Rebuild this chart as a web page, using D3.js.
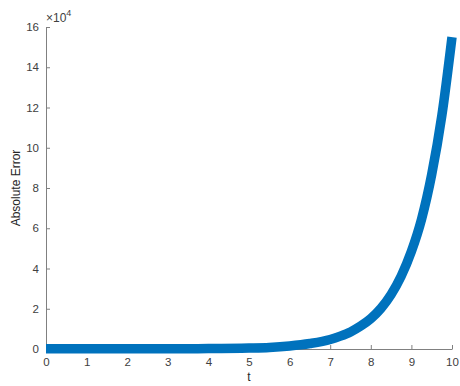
<!DOCTYPE html>
<html>
<head>
<meta charset="utf-8">
<script src="https://cdn.jsdelivr.net/npm/d3@7"></script>
<style>
  body { margin: 0; background: #fff; }
  svg text { font-family: "Liberation Sans", Arial, sans-serif; }
  .axis path, .axis line { stroke: #808080; }
  .axis text { fill: #404040; font-size: 11.5px; }
</style>
</head>
<body>
<div id="chart"></div>
<script>
// t values and absolute error (units of 1e4)
const tValues   = [0, 1, 2, 3, 4, 5, 5.5, 6, 6.5, 7, 7.25, 7.5, 7.75, 8, 8.25, 8.5, 8.75, 9, 9.25, 9.5, 9.75, 10];
const errValues = [0.01, 0.01, 0.01, 0.01, 0.02, 0.05, 0.08, 0.15, 0.27, 0.47, 0.64, 0.85, 1.14, 1.51, 2.02, 2.71, 3.63, 4.85, 6.45, 8.67, 11.6, 15.5];
const xTicks = d3.range(0, 11, 1);
const yTicks = d3.range(0, 17, 2);

const W = 460, H = 386;
const margin = { top: 27, right: 8, bottom: 37, left: 46 };

const svg = d3.select("#chart")
  .append("svg")
  .attr("width", W)
  .attr("height", H);

const x = d3.scaleLinear().domain([0, 10]).range([margin.left, W - margin.right]);
const y = d3.scaleLinear().domain([0, 16]).range([H - margin.bottom, margin.top]);

// AXES
svg.append("g")
  .attr("class", "axis")
  .attr("transform", `translate(0,${H - margin.bottom})`)
  .call(d3.axisBottom(x).tickValues(xTicks).tickSizeInner(-4).tickSizeOuter(0).tickPadding(9));

svg.append("g")
  .attr("class", "axis")
  .attr("transform", `translate(${margin.left},0)`)
  .call(d3.axisLeft(y).tickValues(yTicks).tickSizeInner(-4).tickSizeOuter(0).tickPadding(7));

// exponent label
const expo = svg.append("text")
  .attr("x", margin.left)
  .attr("y", margin.top - 5)
  .attr("font-size", 12)
  .attr("fill", "#404040");
expo.append("tspan").text("×10");
expo.append("tspan").attr("font-size", 9).attr("dy", -6).text("4");

// CURVE
const line = d3.line()
  .x((d, i) => x(tValues[i]))
  .y((d) => y(d))
  .curve(d3.curveMonotoneX);

svg.append("path")
  .datum(errValues)
  .attr("d", line)
  .attr("fill", "none")
  .attr("stroke", "#0072BD")
  .attr("stroke-width", 9.5);

// axis titles
svg.append("text")
  .attr("x", (margin.left + W - margin.right) / 2)
  .attr("y", H - 5)
  .attr("text-anchor", "middle")
  .attr("font-size", 12)
  .attr("fill", "#262626")
  .text("t");

svg.append("text")
  .attr("transform", `translate(20,${(margin.top + H - margin.bottom) / 2}) rotate(-90)`)
  .attr("text-anchor", "middle")
  .attr("font-size", 12)
  .attr("fill", "#262626")
  .text("Absolute Error");
</script>
</body>
</html>
